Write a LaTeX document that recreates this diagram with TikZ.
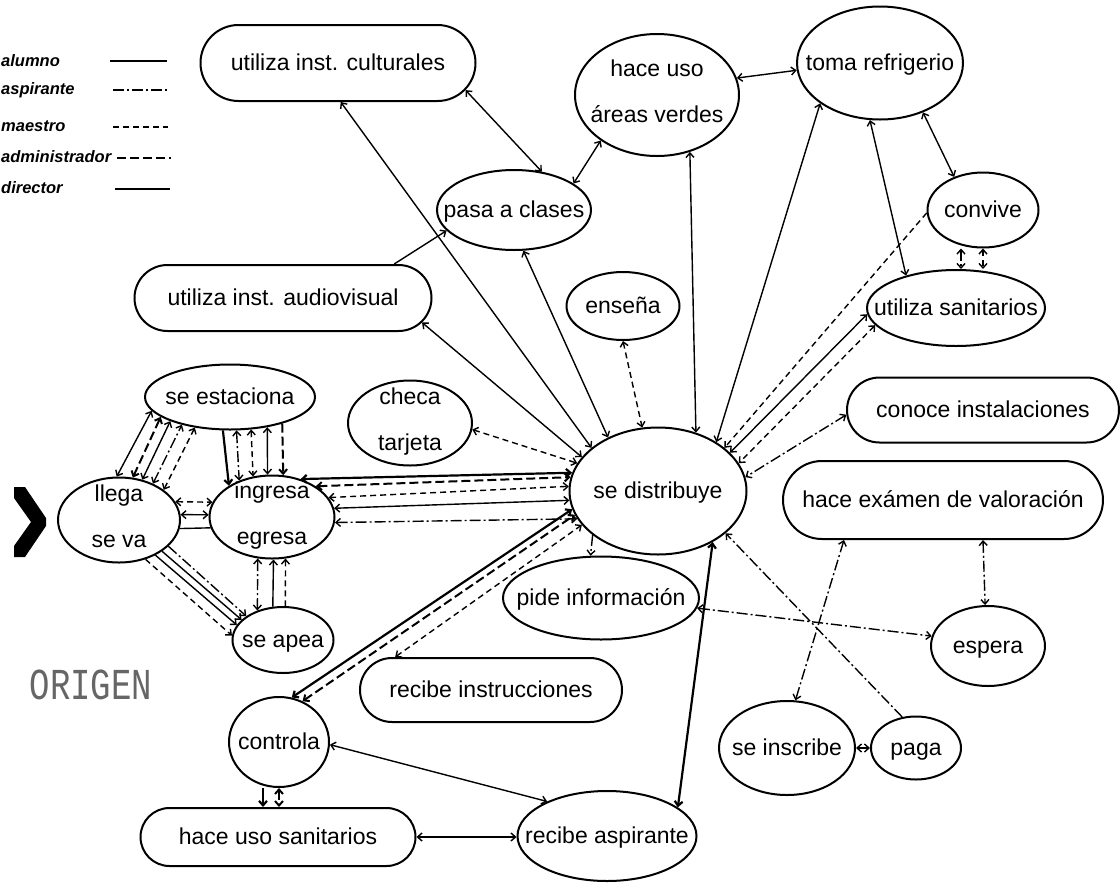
\documentclass[tikz,border=0pt]{standalone}
\usepackage{fontspec}
\setmainfont{Liberation Sans}
\newfontfamily\monof{Liberation Mono}
\usetikzlibrary{shapes.geometric,shapes.misc,arrows.meta,calc}
\newcommand\ntx[1]{\makebox[0pt]{\raisebox{-0.33em}[0pt][0pt]{#1}}}
\newcommand\nty[2]{\makebox[0pt]{\raisebox{-0.25em}[0pt][0pt]{\begin{tabular}{@{}c@{}}#1\\[19pt]#2\end{tabular}}}}
\begin{document}
\begin{tikzpicture}[x=1pt,y=-1pt,
  font=\fontsize{23}{27}\selectfont,
  >={Straight Barb[length=4.5pt,width=8pt]},
  ell/.style 2 args={ellipse,draw,line width=2pt,inner sep=0pt,minimum width=#1pt,minimum height=#2pt},
  blob/.style 2 args={rounded rectangle,draw,line width=2pt,inner sep=0pt,minimum width=#1pt,minimum height=#2pt},
  leg/.style={font=\fontsize{16.5}{18}\selectfont\bfseries\itshape,inner sep=0pt,anchor=base west},
  alum/.style={line width=1.4pt},
  aspi/.style={line width=1.4pt,dash pattern=on 11pt off 3pt on 2pt off 3pt},
  maes/.style={line width=1.4pt,dash pattern=on 6pt off 4pt},
  admi/.style={line width=2pt,dash pattern=on 9pt off 4pt},
  dire/.style={line width=2.2pt}]
\useasboundingbox (0,0) rectangle (1120,887);

% legend
\node[leg] (lalum) at (1,66) {alumno};
\node[leg] (laspi) at (1,94) {aspirante};
\node[leg] (lmaes) at (1,131) {maestro};
\node[leg] (ladmi) at (1,162) {administrador};
\node[leg] (ldire) at (1,193) {director};
\draw[alum] (110,61) -- (167,61);
\draw[aspi] (113,90) -- (167,90);
\draw[maes] (113,127) -- (168,127);
\draw[admi] (117,158) -- (171,158);
\draw[dire] (115,189) -- (170,189);

% origin marks
\fill (14,487) -- (25,487) -- (46,518) -- (46,526) -- (25,557) -- (14,557) -- (14,546) -- (31,522) -- (14,498) -- cycle;
\node[text=black!60,font=\monof\fontsize{34}{36}\selectfont,inner sep=0pt] (origen) at (91,685) {\scalebox{1}[1.3]{ORIGEN}};

% nodes
\node[blob={275}{76}] (cult) at (338,63) {\ntx{utiliza inst. culturales}};
\node[ell={164}{122}] (verdes) at (657,95) {\nty{hace uso}{áreas verdes}};
\node[ell={166}{113}] (refri) at (880,63) {\ntx{toma refrigerio}};
\node[ell={154}{80}] (clases) at (514,210) {\ntx{pasa a clases}};
\node[ell={111}{75}] (convive) at (983,210) {\ntx{convive}};
\node[ell={178}{76}] (sanit) at (956,308) {\ntx{utiliza sanitarios}};
\node[blob={297}{66}] (audio) at (283,298) {\ntx{utiliza inst. audiovisual}};
\node[ell={113}{68}] (ensena) at (623,306) {\ntx{enseña}};
\node[ell={170}{65}] (estac) at (230,397) {\ntx{se estaciona}};
\node[ell={124}{85}] (checa) at (410,423) {\nty{checa}{tarjeta}};
\node[blob={272}{65}] (conoce) at (983,410) {\ntx{conoce instalaciones}};
\node[ell={177}{127}] (distrib) at (658,491) {\ntx{se distribuye}};
\node[ell={122}{85}] (llega) at (119,520) {\nty{llega}{se va}};
\node[ell={125}{83}] (ingresa) at (272,517) {\nty{ingresa}{egresa}};
\node[blob={320}{78}] (examen) at (943,500) {\ntx{hace exámen de valoración}};
\node[ell={101}{66}] (apea) at (283,640) {\ntx{se apea}};
\node[ell={196}{83}] (pide) at (601,598) {\ntx{pide información}};
\node[ell={114}{80}] (espera) at (988,646) {\ntx{espera}};
\node[blob={262}{64}] (instr) at (491,690) {\ntx{recibe instrucciones}};
\node[ell={136}{94}] (inscribe) at (787,748) {\ntx{se inscribe}};
\node[ell={90}{63}] (paga) at (916,748) {\ntx{paga}};
\node[ell={100}{90}] (controla) at (279,742) {\ntx{controla}};
\node[blob={275}{58}] (husanit) at (278,837) {\ntx{hace uso sanitarios}};
\node[ell={179}{90}] (recasp) at (607,836) {\ntx{recibe aspirante}};

% top connectors
\draw[alum,<->] (cult.-12) -- (clases.54);
\draw[alum,<->] (cult.-86) -- (distrib.147);
\draw[alum,<->] (clases.-77) -- (distrib.133);
\draw[alum,<->] (audio.-10) -- (distrib.156);
\draw[alum,->] (audio.17) -- (clases.197);
\draw[alum,<->] (clases.24) -- (verdes.219);
\draw[alum,<->] (verdes.12) -- (refri.185);
\draw[alum,<->] (verdes.-60) -- (distrib.57);
\draw[alum,<->] (refri.214) -- (distrib.40);
\draw[alum,<->] (refri.260) -- (sanit.147);
\draw[alum,<->] (refri.-49) -- (convive.131);
\draw[aspi,<->] ([xshift=-22pt]convive.south) -- ([xshift=-22pt]convive.south |- sanit.north);
\draw[maes,<->] (convive.south) -- (convive.south |- sanit.north);
\draw[maes,->] (convive.183) -- (distrib.33);
\draw[alum,<->] (sanit.184) -- (distrib.28);
\draw[maes,<->] (sanit.192) -- (distrib.19.5);
\draw[aspi,<->] (conoce.182) -- (distrib.9);
\draw[maes,<->] (ensena.south) -- (distrib.104);
\draw[maes,<->] (checa.-6) -- (distrib.161);

% ingresa - distribuye
\draw[dire,<->] (ingresa.53) -- (distrib.168);
\draw[admi,<->] (ingresa.35) -- (distrib.171);
\draw[maes,<->] (ingresa.19) -- (distrib.177);
\draw[alum,<->] (ingresa.8) -- (distrib.186);
\draw[aspi,<->] (ingresa.-5.5) -- (distrib.199);

% lower connectors
\draw[dire,<->] (controla.74) -- (distrib.192);
\draw[admi,<->] (controla.60) -- (distrib.196);
\draw[maes,<->] (instr.161) -- (distrib.204);
\draw[aspi,->] (distrib.214) -- (pide.104);
\draw[dire,<->] (distrib.-43) -- (recasp.22);
\draw[aspi,->] (paga.114) -- (distrib.-32);
\draw[aspi,<->] (pide.-6) -- (espera.170);
\draw[aspi,<->] (examen.202) -- (inscribe.80);
\draw[aspi,<->] (examen.-45) -- (espera.94);
\draw[alum,<->] (inscribe.east) -- (paga.west);
\draw[alum,<->] (controla.-3) -- (recasp.150);
\draw[alum,<->] (husanit.east) -- (husanit.east -| recasp.west);
\draw[dire,->] ([xshift=-16pt]controla.south) -- ([xshift=-16pt]controla.south |- husanit.north);
\draw[admi,<->] (controla.south) -- (controla.south |- husanit.north);

% left cluster
\draw[alum,<->] (llega.93) -- (estac.190);
\draw[admi,<->] (llega.72) -- (estac.196);
\draw[alum,<->] (llega.60) -- (estac.202);
\draw[aspi,<->] (llega.47) -- (estac.210);
\draw[maes,<->] (llega.34) -- (estac.221);
\draw[dire,->] (estac.258) -- (ingresa.144);
\draw[aspi,<->] (estac.281) -- (ingresa.132);
\draw[maes,<->] (estac.303) -- (ingresa.115);
\draw[alum,<->] (estac.321) -- (ingresa.96);
\draw[admi,->] (estac.333) -- (ingresa.75);
\draw[maes,<->] (llega.18) -- (ingresa.166);
\draw[alum,<->] (llega.5) -- (ingresa.178);
\draw[alum] (llega.-8) -- (ingresa.190);
\draw[maes,->] (llega.-56) -- (apea.175);
\draw[alum,->] (llega.-44) -- (apea.162);
\draw[alum,->] (llega.-36) -- (apea.154);
\draw[aspi,->] (llega.-28) -- (apea.147);
\draw[aspi,<->] (ingresa.251) -- (apea.131);
\draw[alum,<-] (ingresa.-88.6) -- (apea.107);
\draw[maes,<-] (ingresa.-72) -- (apea.86.5);
\end{tikzpicture}
\end{document}
